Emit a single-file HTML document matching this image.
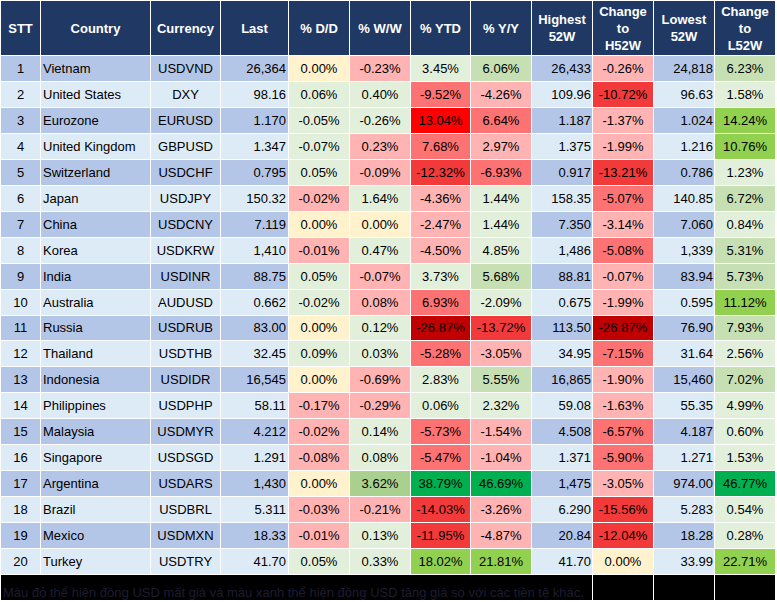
<!DOCTYPE html><html><head><meta charset="utf-8"><title>FX table</title><style>
html,body{margin:0;padding:0;background:#fff;}
body{width:777px;height:602px;position:relative;overflow:hidden;font-family:"Liberation Sans",sans-serif;font-size:13px;color:#000;}
.c{position:absolute;box-sizing:border-box;white-space:nowrap;overflow:hidden;}
.h{background:#1F3864;color:#fff;font-weight:bold;font-size:13px;display:flex;align-items:center;justify-content:center;text-align:center;line-height:17px;}
.r{line-height:25px;height:25px;}
.o{background:#B4C6E7;} .e{background:#DDEBF7;}
.ctr{text-align:center;} .rt{text-align:right;padding-right:2px;} .rt1{padding-right:1px;} .lf{text-align:left;padding-left:2px;}
.Y{background:#FFF2CC;} .G1{background:#E2EFDA;} .G2{background:#C6E0B4;} .G3{background:#A9D08E;} .G4{background:#92D050;} .G5{background:#00B050;}
.P1{background:#FFB3B3;} .P2{background:#FD7272;} .P3{background:#F23A3A;} .P4{background:#FF0000;} .P5{background:#C00000;}
.foot{position:absolute;left:0;top:576px;width:777px;height:26px;background:#000;}
.ft{position:absolute;left:3px;top:585px;font-size:13px;line-height:15px;color:#1e1c32;white-space:nowrap;}
</style></head><body>
<div class="c h" style="left:1px;top:1px;width:39px;height:54px"><span>STT</span></div>
<div class="c h" style="left:41px;top:1px;width:109px;height:54px"><span>Country</span></div>
<div class="c h" style="left:151px;top:1px;width:69px;height:54px"><span>Currency</span></div>
<div class="c h" style="left:221px;top:1px;width:67px;height:54px"><span>Last</span></div>
<div class="c h" style="left:289px;top:1px;width:60px;height:54px"><span>% D/D</span></div>
<div class="c h" style="left:350px;top:1px;width:60px;height:54px"><span>% W/W</span></div>
<div class="c h" style="left:411px;top:1px;width:59px;height:54px"><span>% YTD</span></div>
<div class="c h" style="left:471px;top:1px;width:60px;height:54px"><span>% Y/Y</span></div>
<div class="c h" style="left:532px;top:1px;width:60px;height:54px"><span>Highest<br>52W</span></div>
<div class="c h" style="left:593px;top:1px;width:60px;height:54px"><span>Change<br>to<br>H52W</span></div>
<div class="c h" style="left:654px;top:1px;width:60px;height:54px"><span>Lowest<br>52W</span></div>
<div class="c h" style="left:715px;top:1px;width:60px;height:54px"><span>Change<br>to<br>L52W</span></div>
<div class="c r ctr o" style="left:1px;top:56px;width:39px;height:25px;line-height:25px">1</div>
<div class="c r lf o" style="left:41px;top:56px;width:109px;height:25px;line-height:25px">Vietnam</div>
<div class="c r ctr o" style="left:151px;top:56px;width:69px;height:25px;line-height:25px">USDVND</div>
<div class="c r rt o" style="left:221px;top:56px;width:67px;height:25px;line-height:25px">26,364</div>
<div class="c r ctr Y" style="left:289px;top:56px;width:60px;height:25px;line-height:25px">0.00%</div>
<div class="c r ctr P1" style="left:350px;top:56px;width:60px;height:25px;line-height:25px">-0.23%</div>
<div class="c r ctr G1" style="left:411px;top:56px;width:59px;height:25px;line-height:25px">3.45%</div>
<div class="c r ctr G2" style="left:471px;top:56px;width:60px;height:25px;line-height:25px">6.06%</div>
<div class="c r rt rt1 o" style="left:532px;top:56px;width:60px;height:25px;line-height:25px">26,433</div>
<div class="c r ctr P1" style="left:593px;top:56px;width:60px;height:25px;line-height:25px">-0.26%</div>
<div class="c r rt rt1 o" style="left:654px;top:56px;width:60px;height:25px;line-height:25px">24,818</div>
<div class="c r ctr G2" style="left:715px;top:56px;width:60px;height:25px;line-height:25px">6.23%</div>
<div class="c r ctr e" style="left:1px;top:82px;width:39px;height:25px;line-height:25px">2</div>
<div class="c r lf e" style="left:41px;top:82px;width:109px;height:25px;line-height:25px">United States</div>
<div class="c r ctr e" style="left:151px;top:82px;width:69px;height:25px;line-height:25px">DXY</div>
<div class="c r rt e" style="left:221px;top:82px;width:67px;height:25px;line-height:25px">98.16</div>
<div class="c r ctr G1" style="left:289px;top:82px;width:60px;height:25px;line-height:25px">0.06%</div>
<div class="c r ctr G1" style="left:350px;top:82px;width:60px;height:25px;line-height:25px">0.40%</div>
<div class="c r ctr P2" style="left:411px;top:82px;width:59px;height:25px;line-height:25px">-9.52%</div>
<div class="c r ctr P1" style="left:471px;top:82px;width:60px;height:25px;line-height:25px">-4.26%</div>
<div class="c r rt rt1 e" style="left:532px;top:82px;width:60px;height:25px;line-height:25px">109.96</div>
<div class="c r ctr P3" style="left:593px;top:82px;width:60px;height:25px;line-height:25px">-10.72%</div>
<div class="c r rt rt1 e" style="left:654px;top:82px;width:60px;height:25px;line-height:25px">96.63</div>
<div class="c r ctr G1" style="left:715px;top:82px;width:60px;height:25px;line-height:25px">1.58%</div>
<div class="c r ctr o" style="left:1px;top:108px;width:39px;height:25px;line-height:25px">3</div>
<div class="c r lf o" style="left:41px;top:108px;width:109px;height:25px;line-height:25px">Eurozone</div>
<div class="c r ctr o" style="left:151px;top:108px;width:69px;height:25px;line-height:25px">EURUSD</div>
<div class="c r rt o" style="left:221px;top:108px;width:67px;height:25px;line-height:25px">1.170</div>
<div class="c r ctr G1" style="left:289px;top:108px;width:60px;height:25px;line-height:25px">-0.05%</div>
<div class="c r ctr G1" style="left:350px;top:108px;width:60px;height:25px;line-height:25px">-0.26%</div>
<div class="c r ctr P4" style="left:411px;top:108px;width:59px;height:25px;line-height:25px">13.04%</div>
<div class="c r ctr P2" style="left:471px;top:108px;width:60px;height:25px;line-height:25px">6.64%</div>
<div class="c r rt rt1 o" style="left:532px;top:108px;width:60px;height:25px;line-height:25px">1.187</div>
<div class="c r ctr P1" style="left:593px;top:108px;width:60px;height:25px;line-height:25px">-1.37%</div>
<div class="c r rt rt1 o" style="left:654px;top:108px;width:60px;height:25px;line-height:25px">1.024</div>
<div class="c r ctr G4" style="left:715px;top:108px;width:60px;height:25px;line-height:25px">14.24%</div>
<div class="c r ctr e" style="left:1px;top:134px;width:39px;height:25px;line-height:25px">4</div>
<div class="c r lf e" style="left:41px;top:134px;width:109px;height:25px;line-height:25px">United Kingdom</div>
<div class="c r ctr e" style="left:151px;top:134px;width:69px;height:25px;line-height:25px">GBPUSD</div>
<div class="c r rt e" style="left:221px;top:134px;width:67px;height:25px;line-height:25px">1.347</div>
<div class="c r ctr G1" style="left:289px;top:134px;width:60px;height:25px;line-height:25px">-0.07%</div>
<div class="c r ctr P1" style="left:350px;top:134px;width:60px;height:25px;line-height:25px">0.23%</div>
<div class="c r ctr P2" style="left:411px;top:134px;width:59px;height:25px;line-height:25px">7.68%</div>
<div class="c r ctr P1" style="left:471px;top:134px;width:60px;height:25px;line-height:25px">2.97%</div>
<div class="c r rt rt1 e" style="left:532px;top:134px;width:60px;height:25px;line-height:25px">1.375</div>
<div class="c r ctr P1" style="left:593px;top:134px;width:60px;height:25px;line-height:25px">-1.99%</div>
<div class="c r rt rt1 e" style="left:654px;top:134px;width:60px;height:25px;line-height:25px">1.216</div>
<div class="c r ctr G4" style="left:715px;top:134px;width:60px;height:25px;line-height:25px">10.76%</div>
<div class="c r ctr o" style="left:1px;top:160px;width:39px;height:25px;line-height:25px">5</div>
<div class="c r lf o" style="left:41px;top:160px;width:109px;height:25px;line-height:25px">Switzerland</div>
<div class="c r ctr o" style="left:151px;top:160px;width:69px;height:25px;line-height:25px">USDCHF</div>
<div class="c r rt o" style="left:221px;top:160px;width:67px;height:25px;line-height:25px">0.795</div>
<div class="c r ctr G1" style="left:289px;top:160px;width:60px;height:25px;line-height:25px">0.05%</div>
<div class="c r ctr P1" style="left:350px;top:160px;width:60px;height:25px;line-height:25px">-0.09%</div>
<div class="c r ctr P3" style="left:411px;top:160px;width:59px;height:25px;line-height:25px">-12.32%</div>
<div class="c r ctr P2" style="left:471px;top:160px;width:60px;height:25px;line-height:25px">-6.93%</div>
<div class="c r rt rt1 o" style="left:532px;top:160px;width:60px;height:25px;line-height:25px">0.917</div>
<div class="c r ctr P3" style="left:593px;top:160px;width:60px;height:25px;line-height:25px">-13.21%</div>
<div class="c r rt rt1 o" style="left:654px;top:160px;width:60px;height:25px;line-height:25px">0.786</div>
<div class="c r ctr G1" style="left:715px;top:160px;width:60px;height:25px;line-height:25px">1.23%</div>
<div class="c r ctr e" style="left:1px;top:186px;width:39px;height:25px;line-height:25px">6</div>
<div class="c r lf e" style="left:41px;top:186px;width:109px;height:25px;line-height:25px">Japan</div>
<div class="c r ctr e" style="left:151px;top:186px;width:69px;height:25px;line-height:25px">USDJPY</div>
<div class="c r rt e" style="left:221px;top:186px;width:67px;height:25px;line-height:25px">150.32</div>
<div class="c r ctr P1" style="left:289px;top:186px;width:60px;height:25px;line-height:25px">-0.02%</div>
<div class="c r ctr G1" style="left:350px;top:186px;width:60px;height:25px;line-height:25px">1.64%</div>
<div class="c r ctr P1" style="left:411px;top:186px;width:59px;height:25px;line-height:25px">-4.36%</div>
<div class="c r ctr G1" style="left:471px;top:186px;width:60px;height:25px;line-height:25px">1.44%</div>
<div class="c r rt rt1 e" style="left:532px;top:186px;width:60px;height:25px;line-height:25px">158.35</div>
<div class="c r ctr P2" style="left:593px;top:186px;width:60px;height:25px;line-height:25px">-5.07%</div>
<div class="c r rt rt1 e" style="left:654px;top:186px;width:60px;height:25px;line-height:25px">140.85</div>
<div class="c r ctr G2" style="left:715px;top:186px;width:60px;height:25px;line-height:25px">6.72%</div>
<div class="c r ctr o" style="left:1px;top:212px;width:39px;height:25px;line-height:25px">7</div>
<div class="c r lf o" style="left:41px;top:212px;width:109px;height:25px;line-height:25px">China</div>
<div class="c r ctr o" style="left:151px;top:212px;width:69px;height:25px;line-height:25px">USDCNY</div>
<div class="c r rt o" style="left:221px;top:212px;width:67px;height:25px;line-height:25px">7.119</div>
<div class="c r ctr Y" style="left:289px;top:212px;width:60px;height:25px;line-height:25px">0.00%</div>
<div class="c r ctr Y" style="left:350px;top:212px;width:60px;height:25px;line-height:25px">0.00%</div>
<div class="c r ctr P1" style="left:411px;top:212px;width:59px;height:25px;line-height:25px">-2.47%</div>
<div class="c r ctr G1" style="left:471px;top:212px;width:60px;height:25px;line-height:25px">1.44%</div>
<div class="c r rt rt1 o" style="left:532px;top:212px;width:60px;height:25px;line-height:25px">7.350</div>
<div class="c r ctr P1" style="left:593px;top:212px;width:60px;height:25px;line-height:25px">-3.14%</div>
<div class="c r rt rt1 o" style="left:654px;top:212px;width:60px;height:25px;line-height:25px">7.060</div>
<div class="c r ctr G1" style="left:715px;top:212px;width:60px;height:25px;line-height:25px">0.84%</div>
<div class="c r ctr e" style="left:1px;top:238px;width:39px;height:25px;line-height:25px">8</div>
<div class="c r lf e" style="left:41px;top:238px;width:109px;height:25px;line-height:25px">Korea</div>
<div class="c r ctr e" style="left:151px;top:238px;width:69px;height:25px;line-height:25px">USDKRW</div>
<div class="c r rt e" style="left:221px;top:238px;width:67px;height:25px;line-height:25px">1,410</div>
<div class="c r ctr P1" style="left:289px;top:238px;width:60px;height:25px;line-height:25px">-0.01%</div>
<div class="c r ctr G1" style="left:350px;top:238px;width:60px;height:25px;line-height:25px">0.47%</div>
<div class="c r ctr P1" style="left:411px;top:238px;width:59px;height:25px;line-height:25px">-4.50%</div>
<div class="c r ctr G1" style="left:471px;top:238px;width:60px;height:25px;line-height:25px">4.85%</div>
<div class="c r rt rt1 e" style="left:532px;top:238px;width:60px;height:25px;line-height:25px">1,486</div>
<div class="c r ctr P2" style="left:593px;top:238px;width:60px;height:25px;line-height:25px">-5.08%</div>
<div class="c r rt rt1 e" style="left:654px;top:238px;width:60px;height:25px;line-height:25px">1,339</div>
<div class="c r ctr G2" style="left:715px;top:238px;width:60px;height:25px;line-height:25px">5.31%</div>
<div class="c r ctr o" style="left:1px;top:264px;width:39px;height:25px;line-height:25px">9</div>
<div class="c r lf o" style="left:41px;top:264px;width:109px;height:25px;line-height:25px">India</div>
<div class="c r ctr o" style="left:151px;top:264px;width:69px;height:25px;line-height:25px">USDINR</div>
<div class="c r rt o" style="left:221px;top:264px;width:67px;height:25px;line-height:25px">88.75</div>
<div class="c r ctr G1" style="left:289px;top:264px;width:60px;height:25px;line-height:25px">0.05%</div>
<div class="c r ctr P1" style="left:350px;top:264px;width:60px;height:25px;line-height:25px">-0.07%</div>
<div class="c r ctr G1" style="left:411px;top:264px;width:59px;height:25px;line-height:25px">3.73%</div>
<div class="c r ctr G2" style="left:471px;top:264px;width:60px;height:25px;line-height:25px">5.68%</div>
<div class="c r rt rt1 o" style="left:532px;top:264px;width:60px;height:25px;line-height:25px">88.81</div>
<div class="c r ctr P1" style="left:593px;top:264px;width:60px;height:25px;line-height:25px">-0.07%</div>
<div class="c r rt rt1 o" style="left:654px;top:264px;width:60px;height:25px;line-height:25px">83.94</div>
<div class="c r ctr G2" style="left:715px;top:264px;width:60px;height:25px;line-height:25px">5.73%</div>
<div class="c r ctr e" style="left:1px;top:290px;width:39px;height:25px;line-height:25px">10</div>
<div class="c r lf e" style="left:41px;top:290px;width:109px;height:25px;line-height:25px">Australia</div>
<div class="c r ctr e" style="left:151px;top:290px;width:69px;height:25px;line-height:25px">AUDUSD</div>
<div class="c r rt e" style="left:221px;top:290px;width:67px;height:25px;line-height:25px">0.662</div>
<div class="c r ctr G1" style="left:289px;top:290px;width:60px;height:25px;line-height:25px">-0.02%</div>
<div class="c r ctr P1" style="left:350px;top:290px;width:60px;height:25px;line-height:25px">0.08%</div>
<div class="c r ctr P2" style="left:411px;top:290px;width:59px;height:25px;line-height:25px">6.93%</div>
<div class="c r ctr G1" style="left:471px;top:290px;width:60px;height:25px;line-height:25px">-2.09%</div>
<div class="c r rt rt1 e" style="left:532px;top:290px;width:60px;height:25px;line-height:25px">0.675</div>
<div class="c r ctr P1" style="left:593px;top:290px;width:60px;height:25px;line-height:25px">-1.99%</div>
<div class="c r rt rt1 e" style="left:654px;top:290px;width:60px;height:25px;line-height:25px">0.595</div>
<div class="c r ctr G4" style="left:715px;top:290px;width:60px;height:25px;line-height:25px">11.12%</div>
<div class="c r ctr o" style="left:1px;top:316px;width:39px;height:24px;line-height:24px">11</div>
<div class="c r lf o" style="left:41px;top:316px;width:109px;height:24px;line-height:24px">Russia</div>
<div class="c r ctr o" style="left:151px;top:316px;width:69px;height:24px;line-height:24px">USDRUB</div>
<div class="c r rt o" style="left:221px;top:316px;width:67px;height:24px;line-height:24px">83.00</div>
<div class="c r ctr Y" style="left:289px;top:316px;width:60px;height:24px;line-height:24px">0.00%</div>
<div class="c r ctr G1" style="left:350px;top:316px;width:60px;height:24px;line-height:24px">0.12%</div>
<div class="c r ctr P5" style="left:411px;top:316px;width:59px;height:24px;line-height:24px">-26.87%</div>
<div class="c r ctr P3" style="left:471px;top:316px;width:60px;height:24px;line-height:24px">-13.72%</div>
<div class="c r rt rt1 o" style="left:532px;top:316px;width:60px;height:24px;line-height:24px">113.50</div>
<div class="c r ctr P5" style="left:593px;top:316px;width:60px;height:24px;line-height:24px">-26.87%</div>
<div class="c r rt rt1 o" style="left:654px;top:316px;width:60px;height:24px;line-height:24px">76.90</div>
<div class="c r ctr G2" style="left:715px;top:316px;width:60px;height:24px;line-height:24px">7.93%</div>
<div class="c r ctr e" style="left:1px;top:341px;width:39px;height:25px;line-height:25px">12</div>
<div class="c r lf e" style="left:41px;top:341px;width:109px;height:25px;line-height:25px">Thailand</div>
<div class="c r ctr e" style="left:151px;top:341px;width:69px;height:25px;line-height:25px">USDTHB</div>
<div class="c r rt e" style="left:221px;top:341px;width:67px;height:25px;line-height:25px">32.45</div>
<div class="c r ctr G1" style="left:289px;top:341px;width:60px;height:25px;line-height:25px">0.09%</div>
<div class="c r ctr G1" style="left:350px;top:341px;width:60px;height:25px;line-height:25px">0.03%</div>
<div class="c r ctr P2" style="left:411px;top:341px;width:59px;height:25px;line-height:25px">-5.28%</div>
<div class="c r ctr P1" style="left:471px;top:341px;width:60px;height:25px;line-height:25px">-3.05%</div>
<div class="c r rt rt1 e" style="left:532px;top:341px;width:60px;height:25px;line-height:25px">34.95</div>
<div class="c r ctr P2" style="left:593px;top:341px;width:60px;height:25px;line-height:25px">-7.15%</div>
<div class="c r rt rt1 e" style="left:654px;top:341px;width:60px;height:25px;line-height:25px">31.64</div>
<div class="c r ctr G1" style="left:715px;top:341px;width:60px;height:25px;line-height:25px">2.56%</div>
<div class="c r ctr o" style="left:1px;top:367px;width:39px;height:25px;line-height:25px">13</div>
<div class="c r lf o" style="left:41px;top:367px;width:109px;height:25px;line-height:25px">Indonesia</div>
<div class="c r ctr o" style="left:151px;top:367px;width:69px;height:25px;line-height:25px">USDIDR</div>
<div class="c r rt o" style="left:221px;top:367px;width:67px;height:25px;line-height:25px">16,545</div>
<div class="c r ctr Y" style="left:289px;top:367px;width:60px;height:25px;line-height:25px">0.00%</div>
<div class="c r ctr P1" style="left:350px;top:367px;width:60px;height:25px;line-height:25px">-0.69%</div>
<div class="c r ctr G1" style="left:411px;top:367px;width:59px;height:25px;line-height:25px">2.83%</div>
<div class="c r ctr G2" style="left:471px;top:367px;width:60px;height:25px;line-height:25px">5.55%</div>
<div class="c r rt rt1 o" style="left:532px;top:367px;width:60px;height:25px;line-height:25px">16,865</div>
<div class="c r ctr P1" style="left:593px;top:367px;width:60px;height:25px;line-height:25px">-1.90%</div>
<div class="c r rt rt1 o" style="left:654px;top:367px;width:60px;height:25px;line-height:25px">15,460</div>
<div class="c r ctr G2" style="left:715px;top:367px;width:60px;height:25px;line-height:25px">7.02%</div>
<div class="c r ctr e" style="left:1px;top:393px;width:39px;height:25px;line-height:25px">14</div>
<div class="c r lf e" style="left:41px;top:393px;width:109px;height:25px;line-height:25px">Philippines</div>
<div class="c r ctr e" style="left:151px;top:393px;width:69px;height:25px;line-height:25px">USDPHP</div>
<div class="c r rt e" style="left:221px;top:393px;width:67px;height:25px;line-height:25px">58.11</div>
<div class="c r ctr P1" style="left:289px;top:393px;width:60px;height:25px;line-height:25px">-0.17%</div>
<div class="c r ctr P1" style="left:350px;top:393px;width:60px;height:25px;line-height:25px">-0.29%</div>
<div class="c r ctr G1" style="left:411px;top:393px;width:59px;height:25px;line-height:25px">0.06%</div>
<div class="c r ctr G1" style="left:471px;top:393px;width:60px;height:25px;line-height:25px">2.32%</div>
<div class="c r rt rt1 e" style="left:532px;top:393px;width:60px;height:25px;line-height:25px">59.08</div>
<div class="c r ctr P1" style="left:593px;top:393px;width:60px;height:25px;line-height:25px">-1.63%</div>
<div class="c r rt rt1 e" style="left:654px;top:393px;width:60px;height:25px;line-height:25px">55.35</div>
<div class="c r ctr G1" style="left:715px;top:393px;width:60px;height:25px;line-height:25px">4.99%</div>
<div class="c r ctr o" style="left:1px;top:419px;width:39px;height:25px;line-height:25px">15</div>
<div class="c r lf o" style="left:41px;top:419px;width:109px;height:25px;line-height:25px">Malaysia</div>
<div class="c r ctr o" style="left:151px;top:419px;width:69px;height:25px;line-height:25px">USDMYR</div>
<div class="c r rt o" style="left:221px;top:419px;width:67px;height:25px;line-height:25px">4.212</div>
<div class="c r ctr P1" style="left:289px;top:419px;width:60px;height:25px;line-height:25px">-0.02%</div>
<div class="c r ctr G1" style="left:350px;top:419px;width:60px;height:25px;line-height:25px">0.14%</div>
<div class="c r ctr P2" style="left:411px;top:419px;width:59px;height:25px;line-height:25px">-5.73%</div>
<div class="c r ctr P1" style="left:471px;top:419px;width:60px;height:25px;line-height:25px">-1.54%</div>
<div class="c r rt rt1 o" style="left:532px;top:419px;width:60px;height:25px;line-height:25px">4.508</div>
<div class="c r ctr P2" style="left:593px;top:419px;width:60px;height:25px;line-height:25px">-6.57%</div>
<div class="c r rt rt1 o" style="left:654px;top:419px;width:60px;height:25px;line-height:25px">4.187</div>
<div class="c r ctr G1" style="left:715px;top:419px;width:60px;height:25px;line-height:25px">0.60%</div>
<div class="c r ctr e" style="left:1px;top:445px;width:39px;height:25px;line-height:25px">16</div>
<div class="c r lf e" style="left:41px;top:445px;width:109px;height:25px;line-height:25px">Singapore</div>
<div class="c r ctr e" style="left:151px;top:445px;width:69px;height:25px;line-height:25px">USDSGD</div>
<div class="c r rt e" style="left:221px;top:445px;width:67px;height:25px;line-height:25px">1.291</div>
<div class="c r ctr P1" style="left:289px;top:445px;width:60px;height:25px;line-height:25px">-0.08%</div>
<div class="c r ctr G1" style="left:350px;top:445px;width:60px;height:25px;line-height:25px">0.08%</div>
<div class="c r ctr P2" style="left:411px;top:445px;width:59px;height:25px;line-height:25px">-5.47%</div>
<div class="c r ctr P1" style="left:471px;top:445px;width:60px;height:25px;line-height:25px">-1.04%</div>
<div class="c r rt rt1 e" style="left:532px;top:445px;width:60px;height:25px;line-height:25px">1.371</div>
<div class="c r ctr P2" style="left:593px;top:445px;width:60px;height:25px;line-height:25px">-5.90%</div>
<div class="c r rt rt1 e" style="left:654px;top:445px;width:60px;height:25px;line-height:25px">1.271</div>
<div class="c r ctr G1" style="left:715px;top:445px;width:60px;height:25px;line-height:25px">1.53%</div>
<div class="c r ctr o" style="left:1px;top:471px;width:39px;height:25px;line-height:25px">17</div>
<div class="c r lf o" style="left:41px;top:471px;width:109px;height:25px;line-height:25px">Argentina</div>
<div class="c r ctr o" style="left:151px;top:471px;width:69px;height:25px;line-height:25px">USDARS</div>
<div class="c r rt o" style="left:221px;top:471px;width:67px;height:25px;line-height:25px">1,430</div>
<div class="c r ctr Y" style="left:289px;top:471px;width:60px;height:25px;line-height:25px">0.00%</div>
<div class="c r ctr G3" style="left:350px;top:471px;width:60px;height:25px;line-height:25px">3.62%</div>
<div class="c r ctr G5" style="left:411px;top:471px;width:59px;height:25px;line-height:25px">38.79%</div>
<div class="c r ctr G5" style="left:471px;top:471px;width:60px;height:25px;line-height:25px">46.69%</div>
<div class="c r rt rt1 o" style="left:532px;top:471px;width:60px;height:25px;line-height:25px">1,475</div>
<div class="c r ctr P1" style="left:593px;top:471px;width:60px;height:25px;line-height:25px">-3.05%</div>
<div class="c r rt rt1 o" style="left:654px;top:471px;width:60px;height:25px;line-height:25px">974.00</div>
<div class="c r ctr G5" style="left:715px;top:471px;width:60px;height:25px;line-height:25px">46.77%</div>
<div class="c r ctr e" style="left:1px;top:497px;width:39px;height:25px;line-height:25px">18</div>
<div class="c r lf e" style="left:41px;top:497px;width:109px;height:25px;line-height:25px">Brazil</div>
<div class="c r ctr e" style="left:151px;top:497px;width:69px;height:25px;line-height:25px">USDBRL</div>
<div class="c r rt e" style="left:221px;top:497px;width:67px;height:25px;line-height:25px">5.311</div>
<div class="c r ctr P1" style="left:289px;top:497px;width:60px;height:25px;line-height:25px">-0.03%</div>
<div class="c r ctr P1" style="left:350px;top:497px;width:60px;height:25px;line-height:25px">-0.21%</div>
<div class="c r ctr P3" style="left:411px;top:497px;width:59px;height:25px;line-height:25px">-14.03%</div>
<div class="c r ctr P1" style="left:471px;top:497px;width:60px;height:25px;line-height:25px">-3.26%</div>
<div class="c r rt rt1 e" style="left:532px;top:497px;width:60px;height:25px;line-height:25px">6.290</div>
<div class="c r ctr P3" style="left:593px;top:497px;width:60px;height:25px;line-height:25px">-15.56%</div>
<div class="c r rt rt1 e" style="left:654px;top:497px;width:60px;height:25px;line-height:25px">5.283</div>
<div class="c r ctr G1" style="left:715px;top:497px;width:60px;height:25px;line-height:25px">0.54%</div>
<div class="c r ctr o" style="left:1px;top:523px;width:39px;height:25px;line-height:25px">19</div>
<div class="c r lf o" style="left:41px;top:523px;width:109px;height:25px;line-height:25px">Mexico</div>
<div class="c r ctr o" style="left:151px;top:523px;width:69px;height:25px;line-height:25px">USDMXN</div>
<div class="c r rt o" style="left:221px;top:523px;width:67px;height:25px;line-height:25px">18.33</div>
<div class="c r ctr P1" style="left:289px;top:523px;width:60px;height:25px;line-height:25px">-0.01%</div>
<div class="c r ctr G1" style="left:350px;top:523px;width:60px;height:25px;line-height:25px">0.13%</div>
<div class="c r ctr P3" style="left:411px;top:523px;width:59px;height:25px;line-height:25px">-11.95%</div>
<div class="c r ctr P1" style="left:471px;top:523px;width:60px;height:25px;line-height:25px">-4.87%</div>
<div class="c r rt rt1 o" style="left:532px;top:523px;width:60px;height:25px;line-height:25px">20.84</div>
<div class="c r ctr P3" style="left:593px;top:523px;width:60px;height:25px;line-height:25px">-12.04%</div>
<div class="c r rt rt1 o" style="left:654px;top:523px;width:60px;height:25px;line-height:25px">18.28</div>
<div class="c r ctr G1" style="left:715px;top:523px;width:60px;height:25px;line-height:25px">0.28%</div>
<div class="c r ctr e" style="left:1px;top:549px;width:39px;height:25px;line-height:25px">20</div>
<div class="c r lf e" style="left:41px;top:549px;width:109px;height:25px;line-height:25px">Turkey</div>
<div class="c r ctr e" style="left:151px;top:549px;width:69px;height:25px;line-height:25px">USDTRY</div>
<div class="c r rt e" style="left:221px;top:549px;width:67px;height:25px;line-height:25px">41.70</div>
<div class="c r ctr G1" style="left:289px;top:549px;width:60px;height:25px;line-height:25px">0.05%</div>
<div class="c r ctr G1" style="left:350px;top:549px;width:60px;height:25px;line-height:25px">0.33%</div>
<div class="c r ctr G4" style="left:411px;top:549px;width:59px;height:25px;line-height:25px">18.02%</div>
<div class="c r ctr G4" style="left:471px;top:549px;width:60px;height:25px;line-height:25px">21.81%</div>
<div class="c r rt rt1 e" style="left:532px;top:549px;width:60px;height:25px;line-height:25px">41.70</div>
<div class="c r ctr Y" style="left:593px;top:549px;width:60px;height:25px;line-height:25px">0.00%</div>
<div class="c r rt rt1 e" style="left:654px;top:549px;width:60px;height:25px;line-height:25px">33.99</div>
<div class="c r ctr G4" style="left:715px;top:549px;width:60px;height:25px;line-height:25px">22.71%</div>
<div class="c" style="left:1px;top:575px;width:591px;height:25px;background:#000"></div>
<div class="c" style="left:593px;top:575px;width:60px;height:25px;background:#000"></div>
<div class="c" style="left:654px;top:575px;width:60px;height:25px;background:#000"></div>
<div class="c" style="left:715px;top:575px;width:60px;height:25px;background:#000"></div>
<div class="ft">Màu đỏ thể hiện đồng USD mất giá và màu xanh thể hiện đồng USD tăng giá so với các tiền tệ khác.</div>
</body></html>
